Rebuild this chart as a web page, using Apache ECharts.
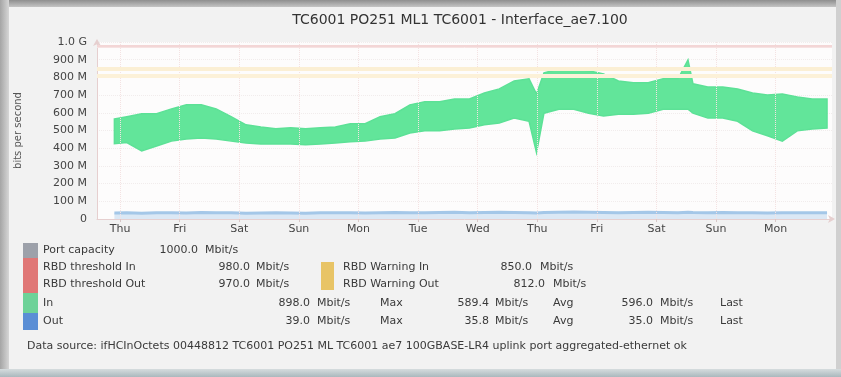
<!DOCTYPE html>
<html>
<head>
<meta charset="utf-8">
<script src="https://cdn.jsdelivr.net/npm/echarts@6/dist/echarts.min.js"></script>
<style>
  html, body { margin: 0; padding: 0; background: #f2f2f2; }
  #chart { width: 841px; height: 377px; }
</style>
</head>
<body>
<div id="chart"></div>
<script>
// Sample times in hours from the start of the graph window
const sampleHours = [7, 12, 18, 24, 30, 36, 42, 48, 54, 60, 66, 72, 78, 84, 90, 96, 102, 108, 114, 120,
  126, 132, 138, 144, 150, 156, 162, 168, 174, 177, 180, 186, 192, 198, 204, 210, 216, 222, 228, 234,
  238, 240, 246, 252, 258, 264, 270, 276, 282, 288, 294];

// Inbound traffic, lower and upper envelope per sample (Mbit/s)
const inLow = [425, 432, 385, 412, 440, 452, 458, 452, 440, 430, 424, 424, 424, 420, 424, 430, 436, 440, 452, 458,
  486, 498, 498, 508, 514, 532, 542, 570, 552, 375, 598, 620, 620, 598, 582, 592, 592, 598, 620, 620,
  620, 598, 570, 570, 552, 498, 470, 440, 498, 508, 514];
const inHigh = [565, 578, 595, 595, 622, 645, 645, 622, 578, 532, 520, 510, 515, 510, 515, 520, 538, 538, 578, 595,
  645, 662, 662, 678, 678, 712, 735, 780, 792, 706, 826, 848, 848, 838, 820, 780, 770, 770, 792, 792,
  898, 764, 746, 746, 735, 712, 700, 706, 690, 678, 678];

// Outbound traffic (Mbit/s)
const outValues = [34, 35, 33, 36, 35, 34, 37, 36, 35, 33, 34, 35, 34, 33, 35, 36, 35, 34, 36, 37,
  36, 35, 37, 38, 36, 37, 38, 37, 36, 34, 37, 38, 39, 38, 37, 36, 37, 38, 37, 36,
  38, 37, 36, 37, 36, 35, 34, 35, 36, 35, 35];

// Reference levels (Mbit/s)
const portCapacity = 1000;
const thresholdIn = 980;
const thresholdOut = 970;
const warningIn = 850;
const warningOut = 812;

// Day ticks on the time axis
const tickHours = [9.3, 33.3, 57.3, 81.3, 105.3, 129.3, 153.3, 177.3, 201.3, 225.3, 249.3, 273.3];
const dayLabels = ['Thu', 'Fri', 'Sat', 'Sun', 'Mon', 'Tue', 'Wed', 'Thu', 'Fri', 'Sat', 'Sun', 'Mon'];

const titleText = 'TC6001 PO251 ML1 TC6001 - Interface_ae7.100';
const sourceText = 'Data source: ifHCInOctets 00448812 TC6001 PO251 ML TC6001 ae7 100GBASE-LR4 uplink port aggregated-ethernet ok';

const chart = echarts.init(document.getElementById('chart'), null, { renderer: 'canvas' });

const bandRows = sampleHours.map((h, i) => [h, inLow[i], inHigh[i]]);
const outPairs = sampleHours.map((h, i) => [h, outValues[i]]);

const fmt = v => v.toFixed(1);
const mids = inLow.map((v, i) => (v + inHigh[i]) / 2);
const inMax = Math.max(...inHigh);
const inAvg = mids.reduce((a, b) => a + b, 0) / mids.length;
const inLast = mids[mids.length - 1];
const outMax = Math.max(...outValues);
const outAvg = outValues.reduce((a, b) => a + b, 0) / outValues.length;
const outLast = outValues[outValues.length - 1];

const FONT = '"DejaVu Sans", sans-serif';
const TXT = '#3a3a3a';

function txt(x, y, s, align) {
  return { type: 'text', x: x, y: y, z: 10,
    style: { text: s, fill: TXT, font: '11px ' + FONT, textAlign: align || 'left', textVerticalAlign: 'middle' } };
}
function box(x, y, w, h, color) {
  return { type: 'rect', shape: { x: x, y: y, width: w, height: h }, style: { fill: color }, z: 10 };
}

const legendRows = [
  box(23, 243, 15, 15, '#9da1aa'),
  txt(43, 250, 'Port capacity'), txt(198, 250, fmt(portCapacity), 'right'), txt(205, 250, 'Mbit/s'),
  box(23, 258, 15, 35, '#e07776'),
  txt(43, 267, 'RBD threshold In'), txt(250, 267, fmt(thresholdIn), 'right'), txt(256, 267, 'Mbit/s'),
  txt(43, 284, 'RBD threshold Out'), txt(250, 284, fmt(thresholdOut), 'right'), txt(256, 284, 'Mbit/s'),
  box(321, 262, 13, 28, '#e8c466'),
  txt(343, 267, 'RBD Warning In'), txt(532, 267, fmt(warningIn), 'right'), txt(540, 267, 'Mbit/s'),
  txt(343, 284, 'RBD Warning Out'), txt(545, 284, fmt(warningOut), 'right'), txt(553, 284, 'Mbit/s'),
  box(23, 293, 15, 20, '#6dd298'),
  txt(43, 303, 'In'),
  txt(310, 303, fmt(inMax), 'right'), txt(317, 303, 'Mbit/s'), txt(380, 303, 'Max'),
  txt(489, 303, fmt(inAvg), 'right'), txt(495, 303, 'Mbit/s'), txt(553, 303, 'Avg'),
  txt(653, 303, fmt(inLast), 'right'), txt(660, 303, 'Mbit/s'), txt(720, 303, 'Last'),
  box(23, 313, 15, 17, '#5a8ed5'),
  txt(43, 321, 'Out'),
  txt(310, 321, fmt(outMax), 'right'), txt(317, 321, 'Mbit/s'), txt(380, 321, 'Max'),
  txt(489, 321, fmt(outAvg), 'right'), txt(495, 321, 'Mbit/s'), txt(553, 321, 'Avg'),
  txt(653, 321, fmt(outLast), 'right'), txt(660, 321, 'Mbit/s'), txt(720, 321, 'Last'),
  txt(27, 346, sourceText)
];

const frame = [
  { type: 'rect', shape: { x: 0, y: 0, width: 841, height: 7 }, z: 20,
    style: { fill: new echarts.graphic.LinearGradient(0, 0, 0, 1, [{ offset: 0, color: '#8f8f8f' }, { offset: 1, color: '#c4c4c4' }]) } },
  { type: 'rect', shape: { x: 0, y: 0, width: 9, height: 377 }, z: 20,
    style: { fill: new echarts.graphic.LinearGradient(0, 0, 1, 0, [{ offset: 0, color: '#a5a5a5' }, { offset: 1, color: '#d6d6d6' }]) } },
  { type: 'rect', shape: { x: 836, y: 0, width: 5, height: 377 }, z: 20, style: { fill: '#d0d0d0' } },
  { type: 'rect', shape: { x: 0, y: 369, width: 841, height: 8 }, z: 20,
    style: { fill: new echarts.graphic.LinearGradient(0, 0, 0, 1, [{ offset: 0, color: '#d6dcde' }, { offset: 1, color: '#aab8bd' }]) } }
];

// Inbound traffic drawn as a filled envelope between the low and high samples
function renderBand(params, api) {
  if (params.dataIndex !== 0) return null;
  const upper = bandRows.map(r => api.coord([r[0], r[2]]));
  const lower = bandRows.map(r => api.coord([r[0], r[1]])).reverse();
  return {
    type: 'polygon',
    shape: { points: upper.concat(lower) },
    style: { fill: '#62e59a', stroke: '#5ce196', lineWidth: 1.5 }
  };
}

const gridDots = { color: '#f4e2e2', type: 'dotted', width: 1 };

const option = {
  animation: false,
  backgroundColor: '#f2f2f2',
  textStyle: { fontFamily: FONT },
  grid: { left: 97, right: 9, top: 42, bottom: 158, show: true, backgroundColor: '#fdfcfc', borderWidth: 0 },
  xAxis: {
    type: 'value', min: 0, max: 296,
    axisLine: { show: true, symbol: ['none', 'arrow'], symbolSize: [6, 7], symbolOffset: [0, 3],
      lineStyle: { color: '#e6cfcf' } },
    axisTick: { show: true, customValues: tickHours, length: 3, lineStyle: { color: '#d8c8c8' } },
    axisLabel: { customValues: tickHours, formatter: v => dayLabels[tickHours.indexOf(v)] || '',
      color: '#444', fontSize: 11, margin: 5 },
    splitLine: { show: false }
  },
  yAxis: {
    type: 'value', min: 0, max: 1000, interval: 100,
    name: 'bits per second', nameLocation: 'middle', nameGap: 74, nameRotate: 90,
    nameTextStyle: { color: '#555', fontSize: 10 },
    axisLine: { show: true, symbol: ['none', 'arrow'], symbolSize: [6, 7], symbolOffset: [0, 3],
      lineStyle: { color: '#e6cfcf' } },
    axisTick: { show: false },
    axisLabel: { color: '#444', fontSize: 11, margin: 10,
      formatter: v => v === 0 ? '0' : (v >= 1000 ? (v / 1000).toFixed(1) + ' G' : v + ' M') },
    splitLine: { show: true, lineStyle: { color: '#f1ecec', type: 'dotted' } }
  },
  series: [
    {
      name: 'Out', type: 'line', data: outPairs, symbol: 'none',
      lineStyle: { width: 3, color: '#a4c7e8' },
      areaStyle: { color: '#dbe8f5', opacity: 1 }, z: 3,
      markLine: {
        silent: true, symbol: 'none', label: { show: false },
        data: tickHours.map(h => ({ xAxis: h, lineStyle: gridDots })).concat([
          { yAxis: thresholdIn, lineStyle: { color: '#f3d6d6', width: 2, type: 'solid' } },
          { yAxis: thresholdOut, lineStyle: { color: '#f6e2e2', width: 1, type: 'solid' } },
          { yAxis: warningIn, lineStyle: { color: '#fbefd4', width: 4, type: 'solid' } },
          { yAxis: warningOut, lineStyle: { color: '#fcf1d8', width: 4, type: 'solid' } }
        ])
      }
    },
    {
      name: 'In', type: 'custom', data: bandRows, renderItem: renderBand, clip: true, z: 4,
      encode: { x: 0, y: [1, 2] }
    }
  ],
  graphic: [
    { type: 'text', x: 460, y: 20, z: 10,
      style: { text: titleText, fill: '#333', font: '14px ' + FONT, textAlign: 'center', textVerticalAlign: 'middle' } }
  ].concat(legendRows, frame)
};

chart.setOption(option);
</script>
</body>
</html>
